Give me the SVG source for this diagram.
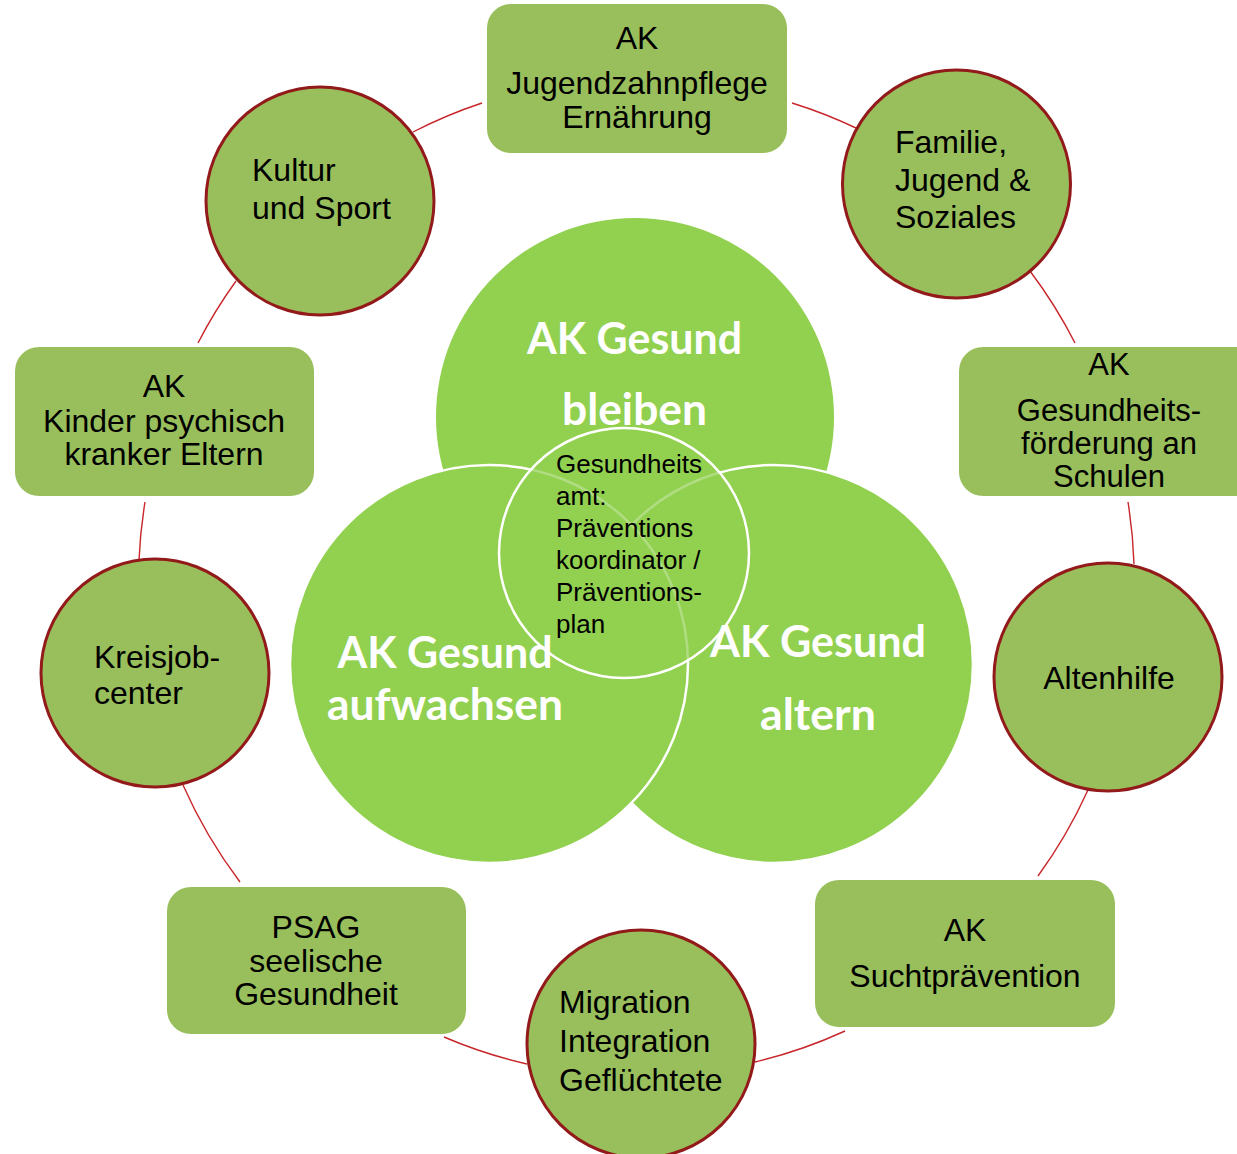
<svg xmlns="http://www.w3.org/2000/svg" width="1237" height="1154" viewBox="0 0 1237 1154">
<style>
.box{fill:#99BF5C;}
.circ{fill:#99BF5C;stroke:#931A1A;stroke-width:3;}
.lbl{font-family:"Liberation Sans",Arial,sans-serif;font-size:32px;fill:#000;}
.sm{font-size:31px;}
.mid{text-anchor:middle;}
.conn{fill:none;stroke:#C8262A;stroke-width:1.4;}
.venn{fill:#92D050;}
.vstroke{stroke:#FFFFFF;stroke-width:2.5;}
.vt{font-family:Lato,"Open Sans",sans-serif;font-weight:bold;font-size:43px;fill:#FFFFFF;text-anchor:middle;}
.ct{font-family:"Liberation Sans",Arial,sans-serif;font-size:26px;fill:#000;}
</style>
<rect width="1237" height="1154" fill="#FFFFFF"/>
<g id="connectors">
<path class="conn" d="M413,132 A485,485 0 0 1 482,103"/>
<path class="conn" d="M792,103 A485,485 0 0 1 856,128"/>
<path class="conn" d="M1030,271 A485,485 0 0 1 1075,343"/>
<path class="conn" d="M1128,502 A485,485 0 0 1 1134,564"/>
<path class="conn" d="M1088,790 A485,485 0 0 1 1038,876"/>
<path class="conn" d="M845,1031 A485,485 0 0 1 755,1062"/>
<path class="conn" d="M527,1064 A485,485 0 0 1 444,1037"/>
<path class="conn" d="M240,882 A485,485 0 0 1 183,785"/>
<path class="conn" d="M139,560 A485,485 0 0 1 145,502"/>
<path class="conn" d="M198,343 A485,485 0 0 1 236,281"/>
</g>
<g id="venn-bleiben">
<circle class="venn" cx="635" cy="417" r="199"/>
</g>
<g id="venn-altern">
<circle class="venn vstroke" cx="774" cy="664" r="199"/>
</g>
<g id="venn-aufwachsen">
<circle class="venn vstroke" cx="489" cy="664" r="199"/>
</g>
<g id="venn-center">
<circle cx="624" cy="553" r="125" fill="#92D050" fill-opacity="0.72" stroke="#FFFFFF" stroke-width="2.5"/>
</g>
<g id="venn-labels">
<text class="vt" x="634.5" y="354" textLength="215" lengthAdjust="spacingAndGlyphs">AK Gesund</text>
<text class="vt" x="634.5" y="425" textLength="145" lengthAdjust="spacingAndGlyphs">bleiben</text>
<text class="vt" x="445" y="668" textLength="215" lengthAdjust="spacingAndGlyphs">AK Gesund</text>
<text class="vt" x="445" y="720" textLength="236" lengthAdjust="spacingAndGlyphs">aufwachsen</text>
<text class="vt" x="818" y="657" textLength="216" lengthAdjust="spacingAndGlyphs">AK Gesund</text>
<text class="vt" x="818" y="730" textLength="116" lengthAdjust="spacingAndGlyphs">altern</text>
<text class="ct" x="556" y="473">Gesundheits</text>
<text class="ct" x="556" y="505">amt:</text>
<text class="ct" x="556" y="537">Präventions</text>
<text class="ct" x="556" y="569">koordinator /</text>
<text class="ct" x="556" y="601">Präventions-</text>
<text class="ct" x="556" y="633">plan</text>
</g>
<g id="node-jugendzahnpflege">
<rect class="box" x="487" y="4" width="300" height="149" rx="24"/>
<text class="lbl mid" x="637" y="49">AK</text>
<text class="lbl mid" x="637" y="94">Jugendzahnpflege</text>
<text class="lbl mid" x="637" y="128">Ernährung</text>
</g>
<g id="node-familie">
<circle class="circ" cx="956.5" cy="184" r="114"/>
<text class="lbl" x="895" y="153">Familie,</text>
<text class="lbl" x="895" y="191">Jugend &amp;</text>
<text class="lbl" x="895" y="228">Soziales</text>
</g>
<g id="node-schulen">
<rect class="box" x="959" y="347" width="300" height="149" rx="24"/>
<text class="lbl sm mid" x="1109" y="375">AK</text>
<text class="lbl sm mid" x="1109" y="421">Gesundheits-</text>
<text class="lbl sm mid" x="1109" y="454">förderung an</text>
<text class="lbl sm mid" x="1109" y="487">Schulen</text>
</g>
<g id="node-altenhilfe">
<circle class="circ" cx="1108" cy="677" r="114"/>
<text class="lbl mid" x="1109" y="689">Altenhilfe</text>
</g>
<g id="node-sucht">
<rect class="box" x="815" y="880" width="300" height="147" rx="24"/>
<text class="lbl mid" x="965" y="941">AK</text>
<text class="lbl mid" x="965" y="987">Suchtprävention</text>
</g>
<g id="node-migration">
<circle class="circ" cx="641" cy="1044" r="114"/>
<text class="lbl" x="559" y="1013">Migration</text>
<text class="lbl" x="559" y="1052">Integration</text>
<text class="lbl" x="559" y="1091">Geflüchtete</text>
</g>
<g id="node-psag">
<rect class="box" x="167" y="887" width="299" height="147" rx="24"/>
<text class="lbl mid" x="316" y="938">PSAG</text>
<text class="lbl mid" x="316" y="972">seelische</text>
<text class="lbl mid" x="316" y="1005">Gesundheit</text>
</g>
<g id="node-kreisjobcenter">
<circle class="circ" cx="155" cy="673" r="114"/>
<text class="lbl" x="94" y="668">Kreisjob-</text>
<text class="lbl" x="94" y="704">center</text>
</g>
<g id="node-kinder">
<rect class="box" x="15" y="347" width="299" height="149" rx="24"/>
<text class="lbl mid" x="164" y="397">AK</text>
<text class="lbl mid" x="164" y="432">Kinder psychisch</text>
<text class="lbl mid" x="164" y="465">kranker Eltern</text>
</g>
<g id="node-kultur">
<circle class="circ" cx="320" cy="201" r="114"/>
<text class="lbl" x="252" y="181">Kultur</text>
<text class="lbl" x="252" y="219">und Sport</text>
</g>
</svg>
